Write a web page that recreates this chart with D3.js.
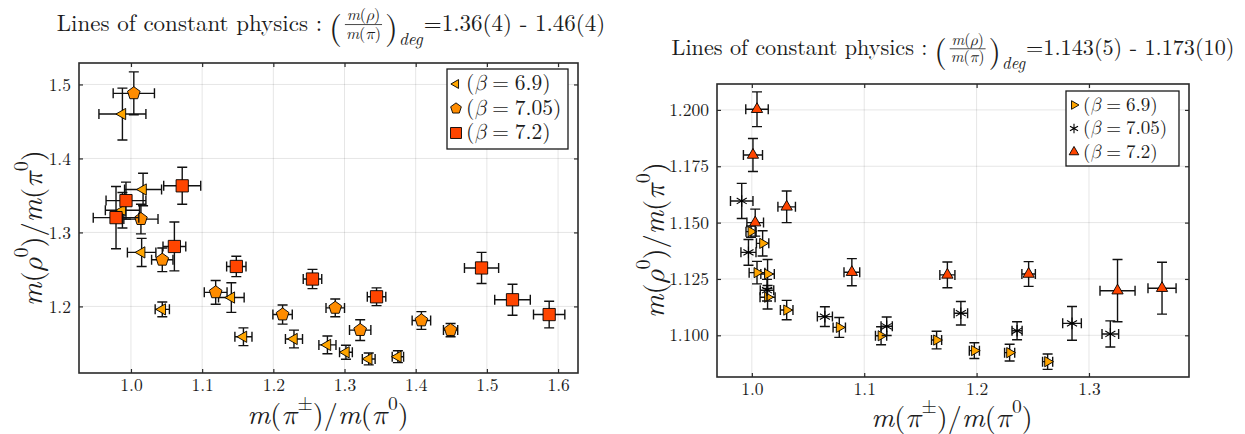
<!DOCTYPE html>
<html>
<head>
<meta charset="utf-8">
<script src="https://cdn.jsdelivr.net/npm/d3@7"></script>
<style>
  body { margin: 0; background: #fff; }
  svg { display: block; }
</style>
</head>
<body>
<svg id="chart" width="1245" height="434"></svg>
<script>
// ---------- Panel 1: m(rho)/m(pi) = 1.36(4) - 1.46(4) ----------
const p1Beta69X    = [0.988, 1.017, 0.988, 1.015, 1.044, 1.141, 1.158, 1.229, 1.276, 1.302, 1.334, 1.375];
const p1Beta69Y    = [1.460, 1.358, 1.330, 1.273, 1.196, 1.212, 1.159, 1.156, 1.148, 1.138, 1.129, 1.132];
const p1Beta69Xerr = [0.033, 0.026, 0.024, 0.020, 0.010, 0.018, 0.012, 0.012, 0.012, 0.009, 0.009, 0.008];
const p1Beta69Yerr = [0.035, 0.022, 0.024, 0.019, 0.010, 0.020, 0.012, 0.012, 0.012, 0.0095, 0.008, 0.008];

const p1Beta705X    = [1.004, 1.014, 1.044, 1.119, 1.213, 1.287, 1.322, 1.408, 1.449];
const p1Beta705Y    = [1.488, 1.318, 1.263, 1.219, 1.189, 1.198, 1.168, 1.181, 1.168];
const p1Beta705Xerr = [0.029, 0.024, 0.015, 0.016, 0.0136, 0.013, 0.015, 0.013, 0.010];
const p1Beta705Yerr = [0.029, 0.020, 0.016, 0.016, 0.013, 0.012, 0.014, 0.012, 0.009];

const p1Beta72X    = [1.072, 0.993, 0.979, 1.061, 1.148, 1.255, 1.345, 1.4925, 1.536, 1.5875];
const p1Beta72Y    = [1.363, 1.343, 1.320, 1.281, 1.254, 1.237, 1.213, 1.252, 1.209, 1.189];
const p1Beta72Xerr = [0.026, 0.028, 0.032, 0.016, 0.0136, 0.013, 0.013, 0.024, 0.025, 0.022];
const p1Beta72Yerr = [0.025, 0.025, 0.042, 0.033, 0.0137, 0.013, 0.012, 0.021, 0.021, 0.018];

const p1XTicks = [1.0, 1.1, 1.2, 1.3, 1.4, 1.5, 1.6];
const p1YTicks = [1.2, 1.3, 1.4, 1.5];

// ---------- Panel 2: m(rho)/m(pi) = 1.143(5) - 1.173(10) ----------
const p2Beta69X    = [0.9993, 1.0096, 1.0046, 1.014, 1.014, 1.031, 1.0778, 1.115, 1.1644, 1.198, 1.2294, 1.2632];
const p2Beta69Y    = [1.146, 1.1408, 1.1278, 1.1272, 1.1169, 1.1112, 1.1035, 1.0998, 1.0979, 1.0932, 1.0923, 1.0883];
const p2Beta69Xerr = [0.0045, 0.0055, 0.007, 0.006, 0.0067, 0.0056, 0.0055, 0.005, 0.0045, 0.0045, 0.0045, 0.0045];
const p2Beta69Yerr = [0.0025, 0.0056, 0.005, 0.0064, 0.0052, 0.0043, 0.0044, 0.004, 0.0039, 0.0035, 0.0037, 0.0034];

const p2Beta705X    = [0.991, 0.997, 1.0135, 1.065, 1.120, 1.186, 1.236, 1.2849, 1.319];
const p2Beta705Y    = [1.1596, 1.1368, 1.120, 1.1083, 1.104, 1.1098, 1.102, 1.1053, 1.1006];
const p2Beta705Xerr = [0.010, 0.0067, 0.006, 0.0067, 0.005, 0.006, 0.0045, 0.0083, 0.0074];
const p2Beta705Yerr = [0.0078, 0.0057, 0.0048, 0.0044, 0.0041, 0.0052, 0.004, 0.0075, 0.0058];

const p2Beta72X    = [1.0046, 1.001, 1.031, 1.003, 1.089, 1.174, 1.2463, 1.3254, 1.365];
const p2Beta72Y    = [1.2003, 1.180, 1.157, 1.150, 1.128, 1.1268, 1.1272, 1.1198, 1.1209];
const p2Beta72Xerr = [0.010, 0.0085, 0.0078, 0.0074, 0.007, 0.0067, 0.006, 0.0156, 0.0125];
const p2Beta72Yerr = [0.0077, 0.0073, 0.007, 0.006, 0.006, 0.0057, 0.0055, 0.0138, 0.0115];

const p2XTicks = [1.0, 1.1, 1.2, 1.3];
const p2YTicks = [1.100, 1.125, 1.150, 1.175, 1.200];

const betaLabels = ["6.9", "7.05", "7.2"];
const titleValues = ["=1.36(4) - 1.46(4)", "=1.143(5) - 1.173(10)"];

// ---------- drawing ----------
const INK = "#1c1c1c";
const ROMAN = "'Latin Modern Roman', 'Liberation Serif', serif";
const GREEK = "'Latin Modern Math', 'Latin Modern Roman', 'DejaVu Serif', serif";
const svg = d3.select("#chart");
const roman = sel => sel.style("font-family", ROMAN);

// regular pentagon, point up
const symbolPentagon = {
  draw(ctx, size) {
    const r = Math.sqrt(size / 2.3776);
    for (let i = 0; i < 5; i++) {
      const a = -Math.PI / 2 + i * 2 * Math.PI / 5;
      const px = r * Math.cos(a), py = r * Math.sin(a);
      if (i === 0) ctx.moveTo(px, py); else ctx.lineTo(px, py);
    }
    ctx.closePath();
  }
};

const MARK = {
  triLeft:  { type: d3.symbolTriangle, rot: -90, fill: "#ffa500", stroke: "#000", sw: 0.9 },
  triRight: { type: d3.symbolTriangle, rot: 90,  fill: "#ffa500", stroke: "#000", sw: 0.9 },
  triUp:    { type: d3.symbolTriangle, rot: 0,   fill: "#ff4500", stroke: "#000", sw: 0.9 },
  pentagon: { type: symbolPentagon,    rot: 0,   fill: "#ff8c00", stroke: "#000", sw: 0.9 },
  square:   { type: d3.symbolSquare,   rot: 0,   fill: "#ff4500", stroke: "#000", sw: 0.9 },
  star:     { type: d3.symbolAsterisk, rot: 0,   fill: "none",    stroke: "#000", sw: 1.1 }
};

function drawMarker(g, kind, size, cx, cy) {
  const m = MARK[kind];
  return g.append("path")
    .attr("d", d3.symbol(m.type, size)())
    .attr("transform", `translate(${cx},${cy}) rotate(${m.rot})`)
    .attr("fill", m.fill).attr("stroke", m.stroke).attr("stroke-width", m.sw)
    .attr("stroke-linejoin", "miter");
}

// parts: [text, italic?, superscript?]; Greek letters get the math face
function mathLabel(t, parts) {
  roman(t);
  parts.forEach(([s, it, sup]) => {
    const ts = t.append("tspan").text(s).style("font-style", it ? "italic" : "normal");
    ts.style("font-family", /[α-ω]/.test(s) ? GREEK : ROMAN);
    if (sup) ts.attr("baseline-shift", "super").attr("font-size", "70%");
  });
}

const yLabelParts = [["m", 1], ["(", 0], ["ρ", 1], ["0", 0, 1], [")/", 0], ["m", 1], ["(", 0], ["π", 1], ["0", 0, 1], [")", 0]];
const xLabelParts = [["m", 1], ["(", 0], ["π", 1], ["±", 0, 1], [")/", 0], ["m", 1], ["(", 0], ["π", 1], ["0", 0, 1], [")", 0]];

function drawPanel(cfg) {
  const x = d3.scaleLinear().domain(cfg.xDomain).range([cfg.left, cfg.right]);
  const y = d3.scaleLinear().domain(cfg.yDomain).range([cfg.bottom, cfg.top]);
  const g = svg.append("g");

  // grid
  const grid = g.append("g").attr("stroke", "#000").attr("stroke-opacity", 0.1).attr("stroke-width", 1);
  grid.selectAll(".gx").data(cfg.xTicks).join("line").attr("class", "gx")
    .attr("x1", d => x(d)).attr("x2", d => x(d)).attr("y1", cfg.top).attr("y2", cfg.bottom);
  grid.selectAll(".gy").data(cfg.yTicks).join("line").attr("class", "gy")
    .attr("y1", d => y(d)).attr("y2", d => y(d)).attr("x1", cfg.left).attr("x2", cfg.right);

  // axes: ticks point inward on all four sides
  const styleAxis = s => {
    s.select(".domain").remove();
    s.selectAll(".tick line").attr("stroke", "#2a2a2a").attr("stroke-width", 1.2);
    s.selectAll(".tick text").attr("fill", INK).attr("font-size", 17.5).call(roman);
  };
  g.append("g").attr("transform", `translate(0,${cfg.bottom})`)
    .call(d3.axisBottom(x).tickValues(cfg.xTicks).tickFormat(cfg.xFormat).tickSizeInner(-4).tickSizeOuter(0).tickPadding(6))
    .call(styleAxis);
  g.append("g").attr("transform", `translate(0,${cfg.top})`)
    .call(d3.axisTop(x).tickValues(cfg.xTicks).tickFormat("").tickSizeInner(-4).tickSizeOuter(0))
    .call(styleAxis);
  g.append("g").attr("transform", `translate(${cfg.left},0)`)
    .call(d3.axisLeft(y).tickValues(cfg.yTicks).tickFormat(cfg.yFormat).tickSizeInner(-4).tickSizeOuter(0).tickPadding(8))
    .call(styleAxis);
  g.append("g").attr("transform", `translate(${cfg.right},0)`)
    .call(d3.axisRight(y).tickValues(cfg.yTicks).tickFormat("").tickSizeInner(-4).tickSizeOuter(0))
    .call(styleAxis);

  // frame
  g.append("rect").attr("x", cfg.left).attr("y", cfg.top)
    .attr("width", cfg.right - cfg.left).attr("height", cfg.bottom - cfg.top)
    .attr("fill", "none").attr("stroke", "#2a2a2a").attr("stroke-width", 1.6);

  // series: error bars then markers
  const cap = 5;
  cfg.series.forEach(s => {
    const pts = s.x.map((v, i) => ({ x: v, y: s.y[i], xe: s.xerr[i], ye: s.yerr[i] }));
    const eg = g.append("g").attr("fill", "none").attr("stroke", "#111").attr("stroke-width", 1.4);
    eg.selectAll("path").data(pts).join("path").attr("d", d => {
      const cx = x(d.x), cy = y(d.y);
      const x0 = x(d.x - d.xe), x1 = x(d.x + d.xe);
      const y0 = y(d.y + d.ye), y1 = y(d.y - d.ye);
      return `M${x0},${cy}H${x1}M${x0},${cy - cap}V${cy + cap}M${x1},${cy - cap}V${cy + cap}` +
             `M${cx},${y0}V${y1}M${cx - cap},${y0}H${cx + cap}M${cx - cap},${y1}H${cx + cap}`;
    });
    const mg = g.append("g");
    pts.forEach(d => drawMarker(mg, s.marker, s.size, x(d.x), y(d.y)));
  });

  // legend
  const L = cfg.legend;
  const lg = g.append("g");
  lg.append("rect").attr("x", L.x).attr("y", L.y).attr("width", L.w).attr("height", L.h)
    .attr("fill", "#fff").attr("stroke", "#1a1a1a").attr("stroke-width", 1.3);
  cfg.series.forEach((s, i) => {
    const cy = L.y + L.row0 + i * L.dy;
    drawMarker(lg, s.marker, s.legendSize, L.x + L.mx, cy);
    const t = lg.append("text").attr("x", L.x + L.tx).attr("y", cy + L.fs * 0.3)
      .attr("font-size", L.fs).attr("fill", INK).call(roman);
    t.append("tspan").text("(");
    t.append("tspan").text("β").style("font-style", "italic").style("font-family", GREEK);
    t.append("tspan").text("=").attr("dx", L.fs * 0.27);
    t.append("tspan").text(s.label + ")").attr("dx", L.fs * 0.27);
  });

  // axis titles
  const xt = g.append("text").attr("x", cfg.xTitle[0]).attr("y", cfg.xTitle[1])
    .attr("text-anchor", "middle").attr("font-size", 28).attr("fill", INK);
  mathLabel(xt, xLabelParts);
  const yt = g.append("text").attr("text-anchor", "middle").attr("font-size", 28.5).attr("fill", INK)
    .attr("transform", `translate(${cfg.yTitle[0]},${cfg.yTitle[1]}) rotate(-90)`);
  mathLabel(yt, yLabelParts);
}

function drawTitle(cx, base, value, fs) {
  const g = svg.append("g").attr("fill", INK);
  let cur = 0;
  const t1 = g.append("text").attr("x", 0).attr("y", 0).attr("font-size", fs).call(roman)
    .text("Lines of constant physics :");
  cur = t1.node().getComputedTextLength() + fs * 0.3;
  const lp = g.append("text").attr("x", cur).attr("y", fs * 0.33).attr("font-size", fs * 1.45).call(roman).text("(");
  cur += lp.node().getComputedTextLength() + 3;
  const fs2 = fs * 0.7;
  const num = g.append("text").attr("y", -fs * 0.47).attr("font-size", fs2);
  mathLabel(num, [["m", 1], ["(", 0], ["ρ", 1], [")", 0]]);
  const den = g.append("text").attr("y", fs * 0.33).attr("font-size", fs2);
  mathLabel(den, [["m", 1], ["(", 0], ["π", 1], [")", 0]]);
  const nw = num.node().getComputedTextLength(), dw = den.node().getComputedTextLength();
  const w = Math.max(nw, dw) + 2;
  num.attr("x", cur + (w - nw) / 2);
  den.attr("x", cur + (w - dw) / 2);
  g.append("line").attr("x1", cur).attr("x2", cur + w).attr("y1", -fs * 0.28).attr("y2", -fs * 0.28)
    .attr("stroke", INK).attr("stroke-width", 0.8);
  cur += w + 3;
  const rp = g.append("text").attr("x", cur).attr("y", fs * 0.33).attr("font-size", fs * 1.45).call(roman).text(")");
  cur += rp.node().getComputedTextLength() + 1;
  const sub = g.append("text").attr("x", cur).attr("y", fs * 0.62).attr("font-size", fs * 0.75).call(roman)
    .style("font-style", "italic").text("deg");
  cur += sub.node().getComputedTextLength() + 1;
  const tv = g.append("text").attr("x", cur).attr("y", 0).attr("font-size", fs).call(roman).text(value);
  cur += tv.node().getComputedTextLength();
  g.attr("transform", `translate(${cx - cur / 2},${base})`);
}

drawPanel({
  left: 79, right: 578, top: 63, bottom: 373,
  xDomain: [0.927, 1.628], yDomain: [1.110, 1.529],
  xTicks: p1XTicks, yTicks: p1YTicks,
  xFormat: d3.format(".1f"), yFormat: d3.format(".1f"),
  series: [
    { x: p1Beta69X,  y: p1Beta69Y,  xerr: p1Beta69Xerr,  yerr: p1Beta69Yerr,  marker: "triLeft",  size: 55,  legendSize: 34, label: betaLabels[0] },
    { x: p1Beta705X, y: p1Beta705Y, xerr: p1Beta705Xerr, yerr: p1Beta705Yerr, marker: "pentagon", size: 105, legendSize: 75, label: betaLabels[1] },
    { x: p1Beta72X,  y: p1Beta72Y,  xerr: p1Beta72Xerr,  yerr: p1Beta72Yerr,  marker: "square",   size: 150, legendSize: 120, label: betaLabels[2] }
  ],
  legend: { x: 447, y: 69, w: 121, h: 80, row0: 15, dy: 24.5, mx: 9, tx: 19, fs: 21.5 },
  xTitle: [328, 424], yTitle: [42, 228]
});

drawPanel({
  left: 717, right: 1189, top: 84, bottom: 377,
  xDomain: [0.969, 1.389], yDomain: [1.0815, 1.2115],
  xTicks: p2XTicks, yTicks: p2YTicks,
  xFormat: d3.format(".1f"), yFormat: d3.format(".3f"),
  series: [
    { x: p2Beta69X,  y: p2Beta69Y,  xerr: p2Beta69Xerr,  yerr: p2Beta69Yerr,  marker: "triRight", size: 45, legendSize: 32, label: betaLabels[0] },
    { x: p2Beta705X, y: p2Beta705Y, xerr: p2Beta705Xerr, yerr: p2Beta705Yerr, marker: "star",     size: 95, legendSize: 60, label: betaLabels[1] },
    { x: p2Beta72X,  y: p2Beta72Y,  xerr: p2Beta72Xerr,  yerr: p2Beta72Yerr,  marker: "triUp",    size: 55, legendSize: 40, label: betaLabels[2] }
  ],
  legend: { x: 1066, y: 91, w: 113, h: 75, row0: 14, dy: 23.5, mx: 8, tx: 17, fs: 19 },
  xTitle: [952, 427], yTitle: [664, 240]
});

drawTitle(331, 31, titleValues[0], 23);
drawTitle(953, 55, titleValues[1], 22.2);
</script>
</body>
</html>
